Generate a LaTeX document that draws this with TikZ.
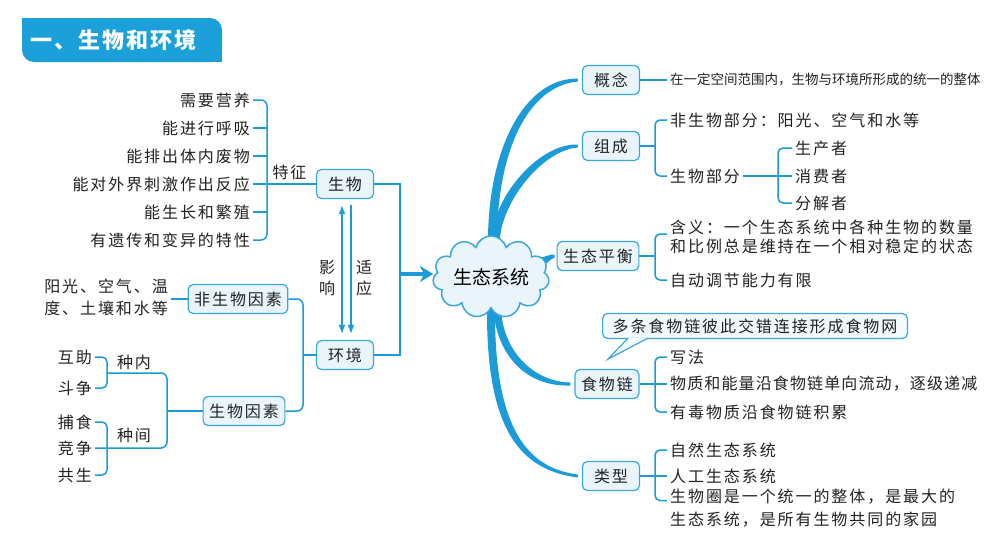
\documentclass[tikz,border=0pt]{standalone}
\usepackage{fontspec}
\newfontfamily\cn[LetterSpace=12]{Noto Sans CJK SC}
\newfontfamily\cntight[LetterSpace=7]{Noto Sans CJK SC}
\newfontfamily\cnflat{Noto Sans CJK SC}
\newfontfamily\cnhead[LetterSpace=9]{Noto Sans CJK SC}
\usetikzlibrary{calc,shapes.symbols,arrows.meta,backgrounds}
\definecolor{lineblue}{HTML}{1B9BD7}
\definecolor{titleblue}{HTML}{1BA0DA}
\definecolor{boxfill}{HTML}{E9F5FB}
\definecolor{boxline}{HTML}{3BA7DA}
\definecolor{bubblefill}{HTML}{F3FAFE}
\definecolor{ink}{HTML}{222222}

\tikzset{
  txt/.style={inner sep=3pt, text=ink, font=\cn\fontsize{16}{19}\selectfont},
  box/.style={txt, draw=boxline, fill=boxfill, line width=1.2pt, rounded corners=5pt,
    inner xsep=6pt, inner ysep=0pt, minimum height=29pt},
  link/.style={draw=lineblue, line width=1.5pt},
  branch/.style={fill=lineblue},
  tip/.style={-{Latex[length=9pt,width=7pt]}},
}

\begin{document}
\begin{tikzpicture}[x=1pt, y=-1pt]

  \begin{scope}[on background layer]
    \fill[white] (0,0) rectangle (992,546);
  \end{scope}
  \useasboundingbox (0,0) rectangle (992,546);

  % title
  \fill[titleblue, rounded corners=12] (22,18) rectangle (222,62);
  \fill[titleblue] (22,18) rectangle (36,32);
  \fill[titleblue] (222,62) rectangle (208,48);
  \node[anchor=west, text=white, font=\cnhead\bfseries\fontsize{22}{22}\selectfont] (title) at (27,40) {一、生物和环境};

  % organism and environment
  \node[box, minimum width=57] (sw) at (345,184) {生物};
  \node[box, minimum width=57] (hj) at (345,355) {环境};
  \node[box] (fs) at (238,299) {非生物因素};
  \node[box] (ss) at (244,411) {生物因素};

  \node[txt, anchor=east] (c1) at (253,100) {需要营养};
  \node[txt, anchor=east] (c2) at (253,128) {能进行呼吸};
  \node[txt, anchor=east] (c3) at (253,156) {能排出体内废物};
  \node[txt, anchor=east] (c4) at (253,184) {能对外界刺激作出反应};
  \node[txt, anchor=east] (c5) at (253,212) {能生长和繁殖};
  \node[txt, anchor=east] (c6) at (253,240) {有遗传和变异的特性};

  \coordinate (tz) at (267,184);
  \draw[link, rounded corners=6] (c1.east) -| (tz) |- (c6.east);
  \draw[link] (c2.east) -- (c2.east -| tz);
  \draw[link] (c3.east) -- (c3.east -| tz);
  \draw[link] (c5.east) -- (c5.east -| tz);
  \draw[link] (c4.east) -- (sw.west) node[txt, pos=0.58, above] (tzl) {特征};

  \draw[link, {Latex[length=9pt,width=7pt]}-{Latex[length=9pt,width=7pt]}]
    ([xshift=-3pt,yshift=-6pt]sw.south) -- ([xshift=-3pt,yshift=6pt]hj.north);
  \draw[link, tip] ([xshift=6pt,yshift=-6pt]sw.south) -- ([xshift=6pt,yshift=6pt]hj.north);
  \node[txt, align=center, font=\cn\fontsize{16}{21}\selectfont] (yx) at (327,278) {影\\响};
  \node[txt, align=center, font=\cn\fontsize{16}{21}\selectfont] (sy) at (364,278) {适\\应};

  \coordinate (swj) at (400,274);
  \draw[link] (sw.east) -| (swj) |- (hj.east);

  % environment factors
  \coordinate (hjj) at (303,355);
  \draw[link] (hj.west) -- (hjj);
  \draw[link, rounded corners=6] (fs.east) -| (hjj) |- (ss.east);

  \node[txt, anchor=east, align=left, font=\cn\fontsize{16}{22}\selectfont] (fsx) at (171,297) {阳光、空气、温\\度、土壤和水等};
  \draw[link] (fs.west) -- (fs.west -| fsx.east);

  \node[txt, anchor=east] (hz) at (95,357) {互助};
  \node[txt, anchor=east] (dz) at (95,388) {斗争};
  \node[txt, anchor=east] (bs) at (95,422) {捕食};
  \node[txt, anchor=east] (jz) at (95,448) {竞争};
  \node[txt, anchor=east] (gs) at (95,475) {共生};

  \coordinate (ssj) at (167,411);
  \coordinate (znj) at (107,373);
  \coordinate (zjj) at (107,448);
  \draw[link] (ss.west) -- (ssj);
  \draw[link, rounded corners=5] (hz.east) -| (znj) |- (dz.east);
  \draw[link, rounded corners=5] (bs.east) -| (zjj) |- (gs.east);
  \draw[link, rounded corners=6] (znj) -| (ssj) |- (jz.east);
  \node[txt] (znl) at (134,362) {种内};
  \node[txt] (zjl) at (134,435) {种间};

  % ecosystem
  \node[cloud, cloud puffs=11, aspect=1.75, draw=boxline, fill=boxfill, line width=1.5pt,
    minimum width=112, minimum height=63, inner sep=0pt, text=black,
    font=\cnflat\fontsize{19}{19}\selectfont] (eco) at (491,277) {生态系统};
  \draw[lineblue, line width=4pt, -{Stealth[length=13pt,width=16pt,inset=4pt]}] (swj) -- (swj -| eco.west);

  \node[box, minimum width=57] (gn) at (611,80) {概念};
  \node[box, minimum width=57] (zc) at (611,146) {组成};
  \node[box] (ph) at (598,256) {生态平衡};
  \node[box] (sl) at (607,384) {食物链};
  \node[box, minimum width=57] (lx) at (611,476) {类型};

  \begin{scope}[on background layer]
    \fill[branch] ($(eco.north)+(-3,3)$) .. controls (489,145) and (526,78) .. ($(gn.west)+(-4,-1.5)$)
      -- ($(gn.west)+(-4,1.5)$) .. controls (529,86) and (498,148) .. ($(eco.north)+(6,3)$) -- cycle;
    \fill[branch] ($(eco.north)+(1,3)$) .. controls (494,195) and (540,143) .. ($(zc.west)+(-4,-1.5)$)
      -- ($(zc.west)+(-4,1.5)$) .. controls (543,150) and (503,200) .. ($(eco.north)+(9,3)$) -- cycle;
    \fill[branch] ($(eco.center)+(45,-18)$) .. controls (545,257) and (550,254) .. ($(ph.west)+(-2,-1.5)$)
      -- ($(ph.west)+(-2,1.5)$) .. controls (550,259) and (546,265) .. ($(eco.center)+(49,-9)$) -- cycle;
    \fill[branch] ($(eco.south)+(2,-2)$) .. controls (497,360) and (530,387) .. ($(sl.west)+(-4,1.5)$)
      -- ($(sl.west)+(-4,-1.5)$) .. controls (533,382) and (502,350) .. ($(eco.south)+(10,-2)$) -- cycle;
    \fill[branch] ($(eco.south)+(-4,-2)$) .. controls (486,430) and (520,470) .. ($(lx.west)+(-4,1.5)$)
      -- ($(lx.west)+(-4,-1.5)$) .. controls (525,468) and (494,425) .. ($(eco.south)+(4,-2)$) -- cycle;
  \end{scope}

  % concept and composition
  \node[txt, anchor=west, font=\cnflat\fontsize{13.5}{16}\selectfont] (gnx) at (667,80) {在一定空间范围内，生物与环境所形成的统一的整体};
  \draw[link] (gn.east) -- (gnx.west);

  \node[txt, anchor=west] (fb) at (667,120) {非生物部分：阳光、空气和水等};
  \node[txt, anchor=west] (sb) at (667,176) {生物部分};
  \coordinate (zcj) at (655,146);
  \draw[link] (zc.east) -- (zcj);
  \draw[link, rounded corners=5] (fb.west) -| (zcj) |- (sb.west);

  \node[txt, anchor=west] (sc) at (792,148) {生产者};
  \node[txt, anchor=west] (xf) at (792,176) {消费者};
  \node[txt, anchor=west] (fj) at (792,203) {分解者};
  \coordinate (sbj) at (778,176);
  \draw[link] (sb.east) -- (xf.west);
  \draw[link, rounded corners=5] (sc.west) -| (sbj) |- (fj.west);

  % balance
  \node[txt, anchor=west, align=left, font=\cn\fontsize{16}{19}\selectfont] (hy) at (667,237)
    {含义：一个生态系统中各种生物的数量\\和比例总是维持在一个相对稳定的状态};
  \node[txt, anchor=west] (zd) at (667,280) {自动调节能力有限};
  \coordinate (phj) at (655,256);
  \draw[link] (ph.east) -- (phj);
  \draw[link, rounded corners=5] ([yshift=3pt]hy.west) -| (phj) |- (zd.west);

  % food chain
  \node[txt, draw=boxline, fill=bubblefill, line width=1.2pt, rounded corners=5pt,
    minimum height=25, inner xsep=10pt, inner ysep=0pt] (qp) at (755,326) {多条食物链彼此交错连接形成食物网};
  \filldraw[draw=boxline, fill=bubblefill, line width=1.2pt]
    ([xshift=26pt,yshift=1pt]qp.south west) -- ([xshift=6pt,yshift=-20pt]qp.south west)
    -- ([xshift=46pt,yshift=1pt]qp.south west);

  \node[txt, anchor=west] (xfa) at (667,357) {写法};
  \node[txt, anchor=west, font=\cntight\fontsize{16}{19}\selectfont] (wz) at (667,384) {物质和能量沿食物链单向流动，逐级递减};
  \node[txt, anchor=west] (yd) at (667,412) {有毒物质沿食物链积累};
  \coordinate (slj) at (655,384);
  \draw[link] (sl.east) -- (wz.west);
  \draw[link, rounded corners=5] (xfa.west) -| (slj) |- (yd.west);

  % types
  \node[txt, anchor=west] (zr) at (667,450) {自然生态系统};
  \node[txt, anchor=west] (rg) at (667,476) {人工生态系统};
  \node[txt, anchor=west, align=left, font=\cn\fontsize{16}{23}\selectfont] (swq) at (667,508.5)
    {生物圈是一个统一的整体，是最大的\\生态系统，是所有生物共同的家园};
  \coordinate (lxj) at (655,476);
  \draw[link] (lx.east) -- (rg.west);
  \draw[link, rounded corners=5] (zr.west) -| (lxj) |- ([yshift=8pt]swq.west);

\end{tikzpicture}
\end{document}
